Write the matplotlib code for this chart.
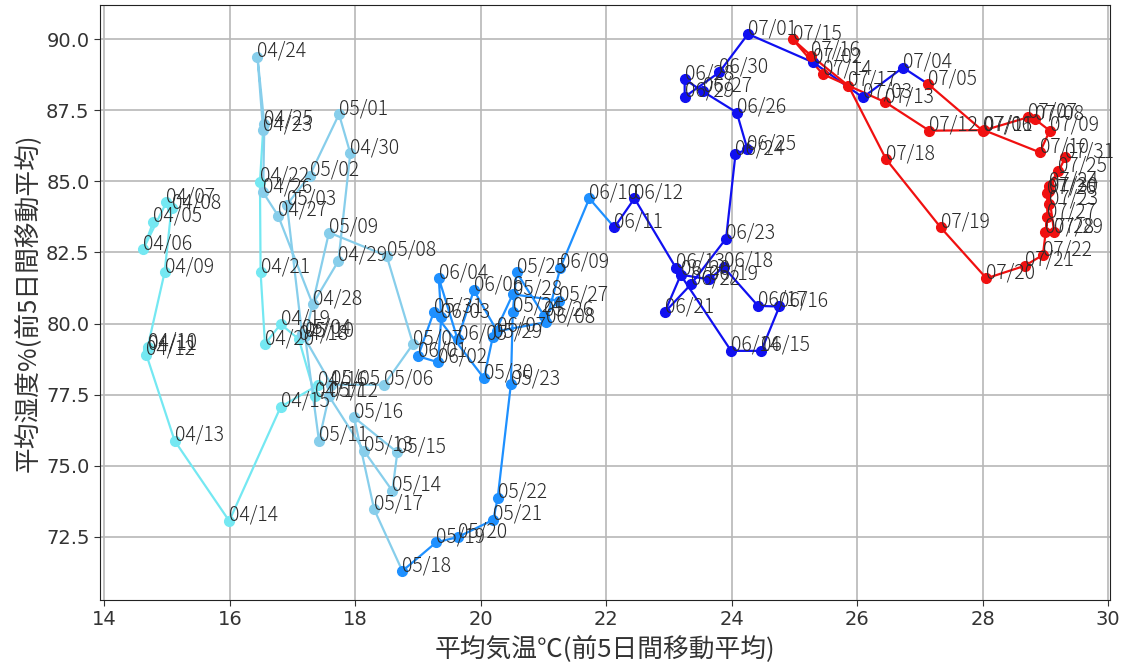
import matplotlib
matplotlib.use("Agg")
import matplotlib.pyplot as plt

dates = ["04/05","04/06","04/07","04/08","04/09","04/10","04/11","04/12","04/13","04/14",
         "04/15","04/16","04/17","04/18","04/19","04/20","04/21","04/22","04/23","04/24",
         "04/25","04/26","04/27","04/28","04/29","04/30","05/01","05/02","05/03","05/04",
         "05/05","05/06","05/07","05/08","05/09","05/10","05/11","05/12","05/13","05/14",
         "05/15","05/16","05/17","05/18","05/19","05/20","05/21","05/22","05/23","05/24",
         "05/25","05/26","05/27","05/28","05/29","05/30","05/31","06/01","06/02","06/03",
         "06/04","06/05","06/06","06/07","06/08","06/09","06/10","06/11","06/12","06/13",
         "06/14","06/15","06/16","06/17","06/18","06/19","06/20","06/21","06/22","06/23",
         "06/24","06/25","06/26","06/27","06/28","06/29","06/30","07/01","07/02","07/03",
         "07/04","07/05","07/06","07/07","07/08","07/09","07/10","07/11","07/12","07/13",
         "07/14","07/15","07/16","07/17","07/18","07/19","07/20","07/21","07/22","07/23",
         "07/24","07/25","07/26","07/27","07/28","07/29","07/30","07/31"]

temp = [14.78,14.62,14.99,15.07,14.96,14.69,14.70,14.67,15.12,15.99,
        16.81,17.40,17.36,17.10,16.81,16.56,16.49,16.48,16.53,16.44,
        16.55,16.53,16.77,17.32,17.73,17.92,17.74,17.27,16.91,17.15,
        17.62,18.46,18.92,18.50,17.58,17.20,17.42,17.58,18.14,18.59,
        18.67,17.98,18.30,18.75,19.29,19.63,20.20,20.27,20.48,20.51,
        20.57,21.01,21.25,20.51,20.19,20.05,19.25,19.00,19.32,19.37,
        19.33,19.63,19.89,20.26,21.04,21.27,21.73,22.13,22.45,23.11,
        23.99,24.47,24.76,24.42,23.87,23.64,23.19,22.93,23.35,23.91,
        24.06,24.25,24.08,23.54,23.25,23.25,23.80,24.26,25.30,26.09,
        26.73,27.13,28.00,28.72,28.83,29.07,28.91,28.02,27.15,26.45,
        25.45,24.97,25.27,25.86,26.46,27.33,28.06,28.67,28.96,29.06,
        29.06,29.20,29.03,29.03,29.00,29.14,29.05,29.32]

humid = [83.58,82.62,84.27,84.06,81.80,79.17,79.10,78.90,75.88,73.06,
         77.07,77.83,77.45,79.45,79.98,79.28,81.80,84.98,86.80,89.38,
         87.00,84.61,83.79,80.68,82.20,85.99,87.36,85.19,84.18,79.65,
         77.85,77.85,79.28,82.38,83.20,79.55,75.88,77.45,75.52,74.12,
         75.47,76.70,73.47,71.30,72.31,72.49,73.10,73.88,77.87,80.41,
         81.80,80.27,80.80,81.03,79.51,78.08,80.40,78.85,78.64,80.22,
         81.60,79.45,81.17,79.73,80.05,81.97,84.40,83.38,84.40,81.96,
         79.04,79.04,80.60,80.62,81.99,81.55,81.72,80.39,81.38,82.99,
         85.96,86.13,87.42,88.16,88.59,87.97,88.83,90.18,89.18,87.95,
         89.00,88.42,86.78,87.25,87.19,86.78,86.02,86.80,86.78,87.78,
         88.77,90.00,89.41,88.36,85.78,83.38,81.59,82.03,82.41,84.20,
         84.83,85.36,84.58,83.74,83.21,83.21,84.65,85.85]

group_start = ["04/05", "04/23", "05/18", "06/11", "07/05"]
group_color = ["#74e8f2", "#87ceeb", "#1e90ff", "#1010f0", "#f01010"]

fig = plt.figure(figsize=(11.26, 6.65), dpi=100)
ax = fig.add_axes([0.0888, 0.0977, 0.8970, 0.8948])

idx = [dates.index(d) for d in group_start] + [len(dates)]
for g in range(len(group_start)):
    s, e = idx[g], idx[g + 1]
    end = min(e + 1, len(dates))
    ax.plot(temp[s:end], humid[s:end], "-", color=group_color[g], lw=1.6, zorder=2)
    ax.plot(temp[s:e], humid[s:e], "o", color=group_color[g], ms=7, zorder=3)

for d, x, y in zip(dates, temp, humid):
    ax.text(x, y, d, fontsize=14, color="#2a2a2a", fontweight="light",
            family=["Noto Sans CJK JP", "DejaVu Sans"], zorder=4)

ax.set_xlim(13.93, 30.03)
ax.set_ylim(70.28, 91.2)
ax.set_xticks([14, 16, 18, 20, 22, 24, 26, 28, 30])
ax.set_yticks([72.5, 75.0, 77.5, 80.0, 82.5, 85.0, 87.5, 90.0])
ax.set_yticklabels(["72.5", "75.0", "77.5", "80.0", "82.5", "85.0", "87.5", "90.0"])
ax.grid(True, color="#b8b8b8", lw=1.2)
ax.set_axisbelow(True)
ax.tick_params(labelsize=14, colors="#333333", length=4)
for sp in ax.spines.values():
    sp.set_color("#222222")

lab_font = ["Noto Sans CJK JP", "DejaVu Sans"]
ax.set_xlabel("平均気温℃(前5日間移動平均)", fontsize=18.5, color="#333333",
              family=lab_font, labelpad=4)
ax.set_ylabel("平均湿度%(前5日間移動平均)", fontsize=18.5, color="#333333",
              family=lab_font, labelpad=4)

fig.savefig("out.png", dpi=100)
